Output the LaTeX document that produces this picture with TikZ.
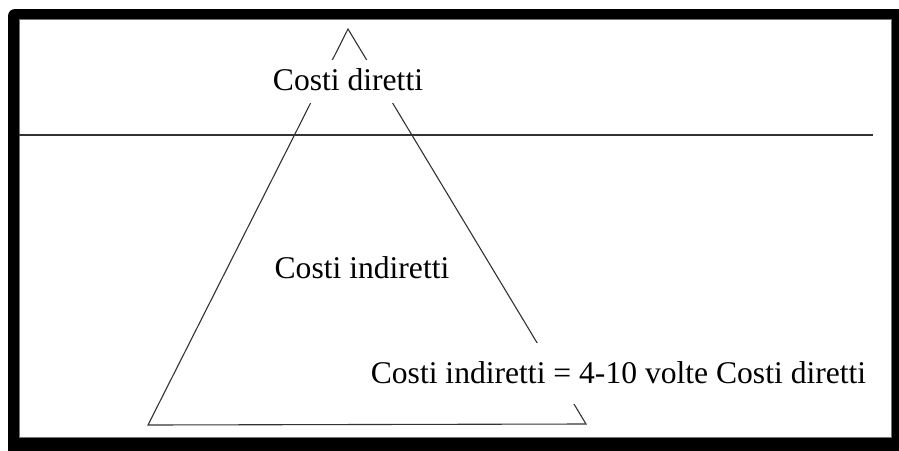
\documentclass[tikz,border=0pt]{standalone}
\usepackage{fontspec}
\setmainfont{Liberation Serif}
\begin{document}
\begin{tikzpicture}[x=1pt,y=-1pt,
  thinline/.style={draw=black!80,line width=1.1pt},
  lbl/.style={anchor=base,fill=white,inner sep=0pt,font=\fontsize{31.6}{38}\selectfont}]
\useasboundingbox (0,0) rectangle (899,450);
% frame
\fill[black,rounded corners=7pt] (8,9) rectangle (910,460);
\fill[white] (19,19) rectangle (891,437);
\draw[black!55,line width=0.6pt] (19,19) rectangle (891,437);
% water line
\coordinate (wl) at (19,135);
\coordinate (wr) at (873,135);
\draw[thinline] (wl) -- (wr);
% triangle
\coordinate (apex) at (348,29);
\coordinate (bl) at (148,425);
\coordinate (br) at (586,424);
\draw[thinline] (apex) -- (bl) -- (br) -- cycle;
% labels
\node[lbl,text height=30pt,text depth=13pt] (cd) at (348,90) {Costi diretti};
\node[lbl,text height=24pt,text depth=8pt] (ci) at (362,278) {Costi indiretti};
\node[lbl,text height=40pt,text depth=21pt] (eq) at (618.5,383) {Costi indiretti = 4-10 volte Costi diretti};
\end{tikzpicture}
\end{document}
